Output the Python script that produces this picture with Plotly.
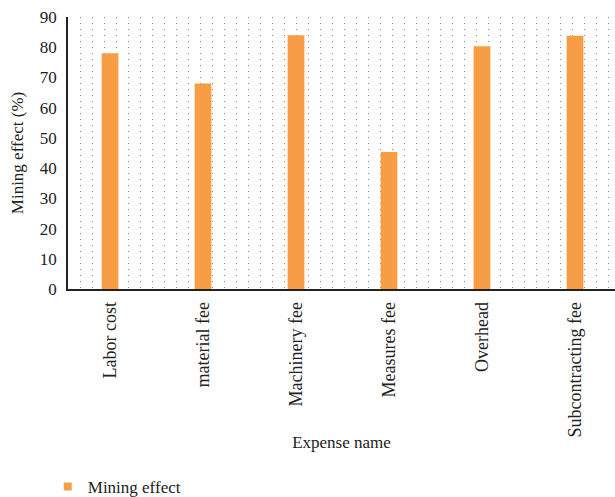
import plotly.graph_objects as go

categories = ["Labor cost", "material fee", "Machinery fee", "Measures fee", "Overhead", "Subcontracting fee"]
values = [78, 68, 84, 45.3, 80.3, 83.8]
series_name = "Mining effect"
y_ticks = [0, 10, 20, 30, 40, 50, 60, 70, 80, 90]

FONT = "Liberation Serif"
ORANGE = "#F79D46"

fig = go.Figure()
fig.add_trace(go.Bar(x=list(range(len(categories))), y=values, name=series_name,
                     marker=dict(color=ORANGE, line=dict(width=0)), width=0.18,
                     showlegend=False))
# legend entry with a small square swatch
fig.add_trace(go.Scatter(x=[None], y=[None], mode="markers", name=series_name,
                         marker=dict(symbol="square", size=8, color=ORANGE)))
# helper trace to activate the dotted-grid overlay axis
fig.add_trace(go.Scatter(x=[None], y=[None], xaxis="x2", showlegend=False, hoverinfo="skip"))

fig.update_layout(
    width=615, height=497,
    margin=dict(l=68, r=0, t=17, b=208, autoexpand=False),
    paper_bgcolor="white", plot_bgcolor="white",
    font=dict(family=FONT, size=18, color="#222"),
    bargap=0.8,
    xaxis=dict(
        tickmode="array", tickvals=list(range(len(categories))), ticktext=categories,
        range=[-0.452, 5.43], tickangle=-90, showgrid=False, zeroline=False,
        showline=True, linecolor="#222", linewidth=1.5, ticks="", automargin=False,
        title=dict(text="Expense name", font=dict(size=17), standoff=0),
        tickfont=dict(size=18), ticklabelstandoff=4,
    ),
    xaxis2=dict(
        overlaying="x", range=[0, 547], tick0=0.8, dtick=12, showgrid=True,
        griddash="1px,5px", gridcolor="#888", gridwidth=1.2,
        showticklabels=False, zeroline=False, showline=False, ticks="",
    ),
    yaxis=dict(
        range=[0, 90], tickvals=y_ticks, showgrid=False, zeroline=False,
        showline=True, linecolor="#222", linewidth=1.5, ticks="", automargin=False,
        title=dict(text="Mining effect (%)", font=dict(size=17), standoff=12),
        tickfont=dict(size=17), ticklabelstandoff=6,
    ),
    legend=dict(orientation="h", x=-0.037, y=-0.662, xanchor="left", yanchor="top",
                font=dict(size=17), itemwidth=30),
)

fig.write_html("out.html")
